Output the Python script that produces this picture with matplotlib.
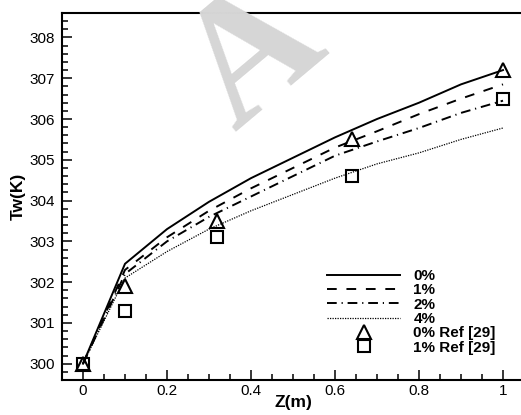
import matplotlib
matplotlib.use('Agg')
from matplotlib import pyplot as plt
from matplotlib.ticker import MultipleLocator, FuncFormatter

plt.rcParams['font.family'] = ['Liberation Sans', 'DejaVu Sans']

# wall temperature along the tube for several nanofluid concentrations
z = [0.0, 0.1, 0.2, 0.3, 0.4, 0.5, 0.6, 0.7, 0.8, 0.9, 1.0]
tw_0 = [300.0, 302.45, 303.3, 303.97, 304.55, 305.05, 305.55, 306.0, 306.4, 306.85, 307.2]
tw_1 = [300.0, 302.3, 303.1, 303.75, 304.3, 304.8, 305.3, 305.7, 306.12, 306.5, 306.85]
tw_2 = [300.0, 302.2, 303.0, 303.6, 304.1, 304.6, 305.1, 305.45, 305.78, 306.15, 306.45]
tw_4 = [300.0, 302.1, 302.75, 303.3, 303.75, 304.15, 304.55, 304.9, 305.17, 305.5, 305.78]

# reference data [29]
z_ref = [0.0, 0.1, 0.32, 0.64, 1.0]
ref_0 = [300.0, 301.9, 303.5, 305.5, 307.2]
ref_1 = [300.0, 301.3, 303.1, 304.6, 306.5]

W, H = 521, 415
fig = plt.figure(figsize=(W / 100, H / 100), dpi=100)
ax = fig.add_axes([62 / W, 35 / H, (524 - 62) / W, (380 - 13) / H])
ax.patch.set_alpha(0)

# faint watermark letter behind the plot
fig.text(282 / W, 1 - 92 / H, 'A', fontsize=125, family='Liberation Serif',
         fontweight='bold', color='#d6d6d6', rotation=40, rotation_mode='anchor',
         ha='center', va='baseline', zorder=0)

ax.plot(z, tw_0, color='black', lw=1.4, label='0%')
ax.plot(z, tw_1, color='black', lw=1.4, dashes=(5, 5), label='1%')
ax.plot(z, tw_2, color='black', lw=1.4, dashes=(5, 2.5, 0.6, 2.5), label='2%')
ax.plot(z, tw_4, color='black', lw=0.9, dashes=(1, 1), label='4%')
ax.plot(z_ref, ref_0, ls='none', marker='^', ms=10, mfc='none', mec='black',
        mew=1.5, label='0% Ref [29]')
ax.plot(z_ref, ref_1, ls='none', marker='s', ms=8, mfc='none', mec='black',
        mew=1.5, label='1% Ref [29]')

ax.set_xlim(-0.05, 1.05)
ax.set_ylim(299.6, 308.6)

ax.xaxis.set_major_locator(MultipleLocator(0.2))
ax.xaxis.set_minor_locator(MultipleLocator(0.05))
ax.yaxis.set_major_locator(MultipleLocator(1))
ax.yaxis.set_minor_locator(MultipleLocator(0.2))
ax.xaxis.set_major_formatter(FuncFormatter(lambda v, p: '%g' % round(v, 2)))
ax.tick_params(which='both', direction='in', top=False, right=False,
               labelsize=11, width=1.1)
ax.tick_params(which='major', length=7)
ax.tick_params(which='minor', length=4.3)
ax.tick_params(axis='x', pad=3)
ax.tick_params(axis='y', pad=5)

for s in ax.spines.values():
    s.set_linewidth(1.5)
ax.spines['right'].set_visible(False)

ax.set_xlabel('Z(m)', fontsize=12.5, fontweight='bold')
ax.set_ylabel('Tw(K)', fontsize=12.5, fontweight='bold')
ax.xaxis.set_label_coords(0.5, -0.062)
ax.xaxis.label.set_va('center')
ax.yaxis.set_label_coords(-0.095, 0.5)
ax.yaxis.label.set_va('center')

leg = ax.legend(loc='upper left', bbox_to_anchor=((327 - 62) / 462, (380 - 269) / 367),
                frameon=False, borderpad=0, borderaxespad=0, handlelength=4.8,
                handletextpad=0.85, labelspacing=0.02,
                prop={'weight': 'bold', 'size': 11})

fig.savefig('out.png', dpi=100)
